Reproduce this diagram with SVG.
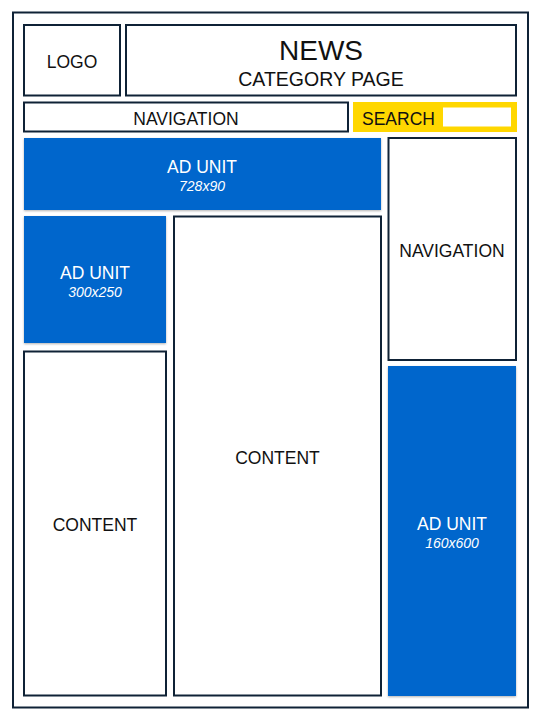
<svg xmlns="http://www.w3.org/2000/svg" width="540" height="720" viewBox="0 0 540 720">
<defs>
<filter id="sh" x="-5%" y="-5%" width="110%" height="110%">
<feDropShadow dx="0" dy="1" stdDeviation="0.8" flood-color="#000" flood-opacity="0.3"/>
</filter>
</defs>
<style>
.box{fill:#fff;stroke:#0f2236;stroke-width:2}
.ad{fill:#0066cc;filter:url(#sh)}
.t{font-family:"Liberation Sans",Arial,sans-serif;font-size:17.5px;fill:#111;text-anchor:middle}
.w{font-family:"Liberation Sans",Arial,sans-serif;font-size:17.5px;fill:#fff;text-anchor:middle}
.s{font-family:"Liberation Sans",Arial,sans-serif;font-size:14px;font-style:italic;fill:#fff;text-anchor:middle}
</style>
<rect width="540" height="720" fill="#fff"/>
<g id="page"><rect class="box" x="13" y="12.5" width="515" height="695"/></g>
<g id="logo"><rect class="box" x="24" y="25" width="96" height="70.5"/><text class="t" x="72" y="68">LOGO</text></g>
<g id="header"><rect class="box" x="126" y="25" width="390" height="70.5"/>
<text class="t" x="321" y="60" style="font-size:28px">NEWS</text>
<text class="t" x="321" y="86" style="font-size:19.5px">CATEGORY PAGE</text></g>
<g id="nav-top"><rect class="box" x="24" y="102.5" width="324" height="29"/><text class="t" x="186" y="125">NAVIGATION</text></g>
<g id="search"><rect x="353" y="102" width="164" height="30" fill="#ffd700"/><rect x="443" y="107.5" width="68" height="19" fill="#fff"/>
<text class="t" x="362" y="125" style="text-anchor:start">SEARCH</text></g>
<g id="ad-728"><rect class="ad" x="24" y="138" width="357" height="72"/><text class="w" x="202" y="173">AD UNIT</text><text class="s" x="202" y="191">728x90</text></g>
<g id="ad-300"><rect class="ad" x="24" y="216" width="142" height="127"/><text class="w" x="95" y="279">AD UNIT</text><text class="s" x="95" y="297">300x250</text></g>
<g id="content-center"><rect class="box" x="174" y="216.5" width="207" height="479"/><text class="t" x="277.5" y="464">CONTENT</text></g>
<g id="content-left"><rect class="box" x="24" y="351.5" width="142" height="344"/><text class="t" x="95" y="531">CONTENT</text></g>
<g id="nav-right"><rect class="box" x="388.5" y="138" width="127.5" height="222"/><text class="t" x="452" y="257">NAVIGATION</text></g>
<g id="ad-160"><rect class="ad" x="388" y="366" width="128" height="330"/><text class="w" x="452" y="530">AD UNIT</text><text class="s" x="452" y="548">160x600</text></g>
<g id="connectors"/>
</svg>
